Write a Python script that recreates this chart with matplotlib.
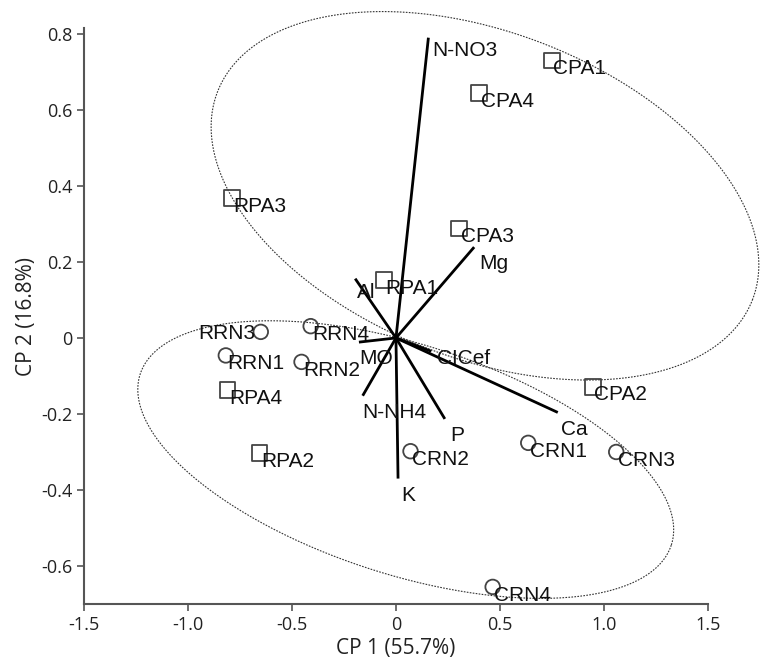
import numpy as np
import matplotlib
matplotlib.use('Agg')
import matplotlib.pyplot as plt

# sample scores (CP1, CP2)
sq_names = ['CPA1', 'CPA4', 'RPA3', 'CPA3', 'RPA1', 'CPA2', 'RPA4', 'RPA2']
sq_x = [0.75, 0.40, -0.79, 0.305, -0.056, 0.947, -0.81, -0.656]
sq_y = [0.73, 0.645, 0.368, 0.288, 0.152, -0.128, -0.137, -0.302]

ci_names = ['RRN3', 'RRN4', 'RRN1', 'RRN2', 'CRN2', 'CRN1', 'CRN3', 'CRN4']
ci_x = [-0.65, -0.41, -0.818, -0.454, 0.07, 0.636, 1.059, 0.465]
ci_y = [0.016, 0.031, -0.046, -0.063, -0.298, -0.276, -0.30, -0.655]

# variable loadings
var_names = ['N-NO3', 'Mg', 'Al', 'MO', 'CICef', 'Ca', 'P', 'K', 'N-NH4']
var_x = [0.156, 0.376, -0.196, -0.178, 0.17, 0.778, 0.235, 0.01, -0.16]
var_y = [0.79, 0.239, 0.156, -0.011, -0.035, -0.196, -0.213, -0.37, -0.152]

xticks = [-1.5, -1.0, -0.5, 0, 0.5, 1.0, 1.5]
xticklabels = ['-1.5', '-1.0', '-0.5', '0', '0.5', '1.0', '1.5']
yticks = [-0.6, -0.4, -0.2, 0, 0.2, 0.4, 0.6, 0.8]
yticklabels = ['-0.6', '-0.4', '-0.2', '0', '0.2', '0.4', '0.6', '0.8']

# group ellipses: center (data), semi axes and angle in screen pixels
ell_upper = (0.428, 0.374, 287, 163, -21.3)
ell_lower = (0.047, -0.32, 279, 115, -17.8)

SX, SY = 208.0, 380.0  # px per data unit


def ellipse_pts(cx, cy, a, b, ang):
    t = np.linspace(0, 2 * np.pi, 400)
    th = np.radians(ang)
    px = a * np.cos(t) * np.cos(th) - b * np.sin(t) * np.sin(th)
    py = a * np.cos(t) * np.sin(th) + b * np.sin(t) * np.cos(th)
    return cx + px / SX, cy + py / SY


fig = plt.figure(figsize=(7.6, 6.68), dpi=100)
ax = fig.add_axes([0.1105, 0.0958, 0.821, 0.862])
ax.set_xlim(-1.5, 1.5)
ax.set_ylim(-0.7, 0.815)

for e in (ell_upper, ell_lower):
    ex, ey = ellipse_pts(*e)
    ax.plot(ex, ey, color='#333333', lw=0.8, ls=(0, (1.5, 1.2)), clip_on=False, zorder=1)

for vx, vy in zip(var_x, var_y):
    ax.plot([0, vx], [0, vy], color='black', lw=2.0, solid_capstyle='butt', zorder=2)

lab_font = dict(family=['Liberation Sans', 'DejaVu Sans'], fontsize=15, color='#111111')

var_off = {'N-NO3': (3, -9, 'left'), 'Mg': (4, -12, 'left'), 'Al': (1, -10, 'left'),
           'MO': (0, -12, 'left'), 'CICef': (4, -5, 'left'), 'Ca': (2, -12, 'left'),
           'P': (4, -12, 'left'), 'K': (2, -12, 'left'), 'N-NH4': (0, -12, 'left')}
for n, vx, vy in zip(var_names, var_x, var_y):
    dx, dy, ha = var_off[n]
    ax.annotate(n, (vx, vy), xytext=(dx, dy), textcoords='offset points',
                ha=ha, va='center', zorder=4, **lab_font)

ax.scatter(sq_x, sq_y, marker='s', s=130, facecolors='none', edgecolors='#444444',
           linewidths=1.3, zorder=3)
ax.scatter(ci_x, ci_y, marker='o', s=110, facecolors='none', edgecolors='#444444',
           linewidths=1.3, zorder=3)

for n, x, y in zip(sq_names + ci_names, sq_x + ci_x, sq_y + ci_y):
    if n == 'RRN3':
        ax.annotate(n, (x, y), xytext=(-4, -1), textcoords='offset points',
                    ha='right', va='center', zorder=4, **lab_font)
    else:
        ax.annotate(n, (x, y), xytext=(1, -6), textcoords='offset points',
                    ha='left', va='center', zorder=4, **lab_font)

for s in ['top', 'right']:
    ax.spines[s].set_visible(False)
for s in ['left', 'bottom']:
    ax.spines[s].set_color('#555555')
    ax.spines[s].set_linewidth(1.5)

ax.set_xticks(xticks)
ax.set_xticklabels(xticklabels)
ax.set_yticks(yticks)
ax.set_yticklabels(yticklabels)
ax.tick_params(direction='out', length=5, width=1.2, color='#555555',
               labelsize=13, labelcolor='#222222')
for lbl in ax.get_xticklabels() + ax.get_yticklabels():
    lbl.set_family(['Open Sans', 'DejaVu Sans'])

ax.set_xlabel('CP 1 (55.7%)', fontsize=15, family=['Open Sans', 'DejaVu Sans'],
              color='#222222', labelpad=3)
ax.set_ylabel('CP 2 (16.8%)', fontsize=15, family=['Open Sans', 'DejaVu Sans'],
              color='#222222', labelpad=3)

plt.savefig('out.png', dpi=100)
